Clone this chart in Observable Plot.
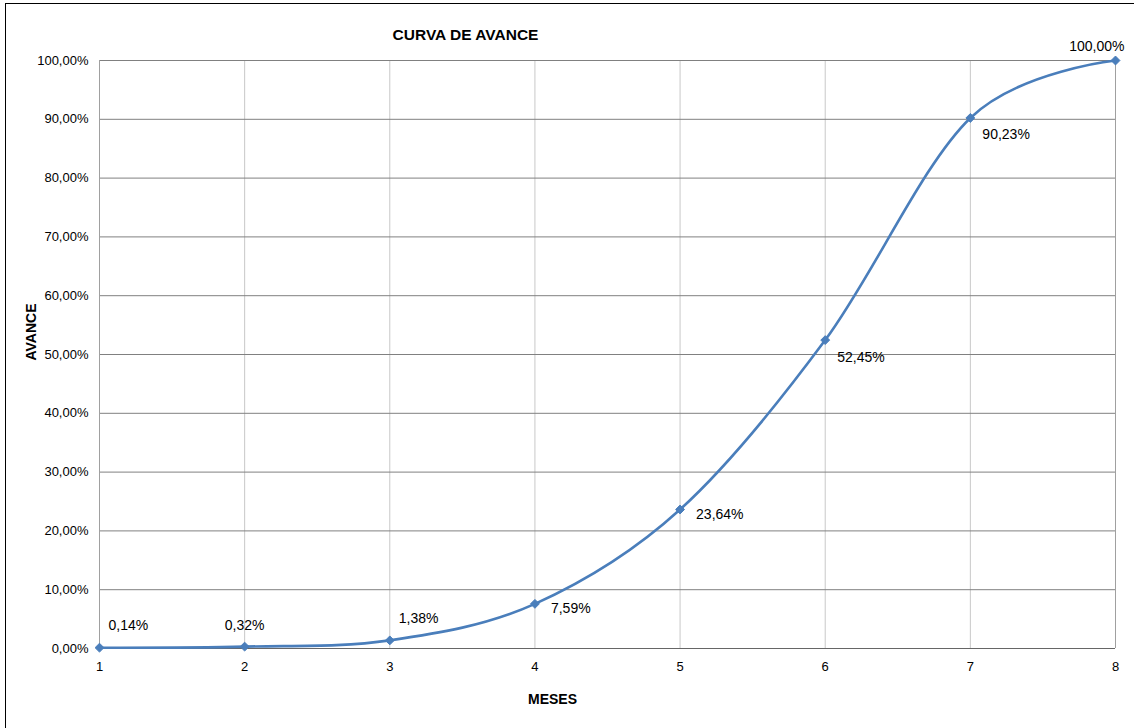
<!DOCTYPE html>
<html><head><meta charset="utf-8">
<script src="https://cdn.jsdelivr.net/npm/d3@7"></script>
<script src="https://cdn.jsdelivr.net/npm/@observablehq/plot@0.6"></script>
<style>
body{margin:0;background:#fff}
svg{font-family:"Liberation Sans",Arial,sans-serif}
</style>
</head><body><div id="chart"></div>
<script>
const meses = [1, 2, 3, 4, 5, 6, 7, 8];
const avance = [0.14, 0.32, 1.38, 7.59, 23.64, 52.45, 90.23, 100.00];
const etiquetas = ["0,14%", "0,32%", "1,38%", "7,59%", "23,64%", "52,45%", "90,23%", "100,00%"];
const yTicks = [0, 10, 20, 30, 40, 50, 60, 70, 80, 90, 100];
const xTicks = [1, 2, 3, 4, 5, 6, 7, 8];
const labelPlacement = ["above-right", "above", "above-right", "right", "right", "below-right", "below-right", "above-left"];
const titulo = "CURVA DE AVANCE";
const tituloX = "MESES";
const tituloY = "AVANCE";

const placements = {
  "above-right": {dx: 9, dy: -22, textAnchor: "start"},
  "above": {dx: 0, dy: -21, textAnchor: "middle"},
  "right": {dx: 16, dy: 5, textAnchor: "start"},
  "below-right": {dx: 12, dy: 17, textAnchor: "start"},
  "above-left": {dx: 9, dy: -14, textAnchor: "end"}
};

const data = meses.map((m, i) => ({mes: m, avance: avance[i], label: etiquetas[i], pos: labelPlacement[i]}));
const blue = "#4a7ebb";
const fmt = d => d.toFixed(2).replace(".", ",") + "%";

const labelMarks = Object.entries(placements).map(([k, p]) =>
  Plot.text(data.filter(d => d.pos === k), {x: "mes", y: "avance", text: "label", fontSize: 14, fill: "#000", ...p})
);

const chart = Plot.plot({
  width: 1134,
  height: 728,
  marginLeft: 99,
  marginRight: 19,
  marginTop: 60,
  marginBottom: 80,
  style: {fontFamily: "'Liberation Sans', Arial, sans-serif", background: "#fff"},
  x: {domain: [1, 8], ticks: xTicks, tickFormat: d => String(d), label: null},
  y: {domain: [0, 100], ticks: yTicks, tickFormat: fmt, label: null},
  marks: [
    Plot.gridX(xTicks.slice(1, -1), {stroke: "#c8c8c8", strokeOpacity: 1}),
    Plot.gridY(yTicks, {stroke: "#808080", strokeOpacity: 1}),
    Plot.ruleX([1, 8], {stroke: "#a0a0a0"}),
    Plot.ruleY([0], {stroke: "#666"}),
    Plot.axisX({ticks: xTicks, tickSize: 0, tickPadding: 13, fontSize: 13, tickFormat: d => String(d), label: null}),
    Plot.axisY({ticks: yTicks, tickSize: 0, tickPadding: 11, fontSize: 13, tickFormat: fmt, label: null}),
    Plot.line(data, {x: "mes", y: "avance", stroke: blue, strokeWidth: 2.6, curve: "cardinal"}),
    Plot.dot(data, {x: "mes", y: "avance", symbol: "diamond2", r: 4, fill: blue, stroke: blue, strokeWidth: 1}),
    ...labelMarks,
    Plot.text([titulo], {frameAnchor: "top", dx: -142, dy: -32, fontSize: 15.5, fontWeight: "bold", fill: "#000"}),
    Plot.text([tituloX], {frameAnchor: "bottom", dx: -55, dy: 55, fontSize: 14, fontWeight: "bold", fill: "#000"}),
    Plot.text([tituloY], {frameAnchor: "left", dx: -68, dy: 6, rotate: -90, fontSize: 14, fontWeight: "bold", fill: "#000"})
  ]
});

d3.select(chart).append("rect")
  .attr("x", 5.5).attr("y", 3.5).attr("width", 1134).attr("height", 728)
  .attr("fill", "none").attr("stroke", "#000").attr("stroke-width", 1);

document.getElementById("chart").appendChild(chart);
</script>
</body></html>
